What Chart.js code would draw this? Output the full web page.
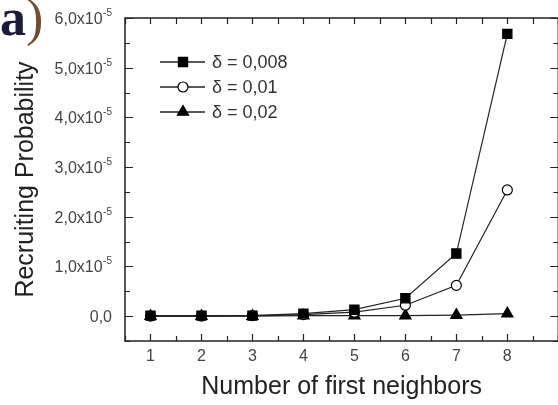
<!DOCTYPE html>
<html>
<head>
<meta charset="utf-8">
<script src="https://cdn.jsdelivr.net/npm/chart.js@4.4.0/dist/chart.umd.min.js"></script>
<style>
  html, body { margin: 0; padding: 0; background: #fff; overflow: hidden; width: 558px; height: 405px; }
  #wrap { position: relative; width: 558px; height: 405px; overflow: hidden; }
  #myChart { position: absolute; left: 0; top: 0; }
  #panel { position: absolute; left: 0px; top: -8px; line-height: 1; font-family: "Liberation Serif", serif; font-weight: bold; font-size: 52px; color: #1c1c38; }
  #panel span { color: #6e4f33; font-weight: normal; }
</style>
</head>
<body>
<div id="wrap">
  <canvas id="myChart" width="566" height="405"></canvas>
  <div id="panel">a<span>)</span></div>
</div>
<script>
// values in units of 1e-5
const neighbors = [1, 2, 3, 4, 5, 6, 7, 8];
const delta008 = [0.01, 0.01, 0.01, 0.05, 0.13, 0.36, 1.26, 5.68];
const delta001 = [0.0, 0.0, 0.01, 0.03, 0.08, 0.22, 0.62, 2.54];
const delta002 = [0.0, 0.0, 0.0, 0.01, 0.01, 0.01, 0.02, 0.05];
const seriesLabels = ['δ = 0,008', 'δ = 0,01', 'δ = 0,02'];
const xTickLabels = ['1', '2', '3', '4', '5', '6', '7', '8'];
const yTickLabels = ['0,0', '1,0x10', '2,0x10', '3,0x10', '4,0x10', '5,0x10', '6,0x10'];
const yTickExp = ['', '-5', '-5', '-5', '-5', '-5', '-5'];

const INK = '#222';
const FONT = '"Liberation Sans", Arial, sans-serif';

function pts(vals) {
  return neighbors.map((n, i) => ({ x: n, y: vals[i] }));
}

// frame with inward ticks, like the original plot
const framePlugin = {
  id: 'frame',
  beforeDatasetsDraw(chart) {
    const ctx = chart.ctx;
    const a = chart.chartArea;
    const xs = chart.scales.x;
    const ys = chart.scales.y;
    ctx.save();
    ctx.strokeStyle = INK;
    ctx.lineWidth = 1.5;
    ctx.strokeRect(a.left, a.top, a.right - a.left, a.bottom - a.top);
    ctx.lineWidth = 1.2;
    ctx.beginPath();
    xs.ticks.forEach(t => {
      const px = Math.round(xs.getPixelForValue(t.value)) + 0.5;
      const major = Number.isInteger(t.value);
      const len = major ? 7 : 5;
      ctx.moveTo(px, a.bottom); ctx.lineTo(px, a.bottom - len);
      ctx.moveTo(px, a.top); ctx.lineTo(px, a.top + 6);
    });
    ys.ticks.forEach(t => {
      const py = Math.round(ys.getPixelForValue(t.value)) + 0.5;
      const major = Number.isInteger(t.value);
      const len = major ? 8 : 5;
      ctx.moveTo(a.left, py); ctx.lineTo(a.left + len, py);
      ctx.moveTo(a.right, py); ctx.lineTo(a.right - len, py);
    });
    ctx.stroke();

    // y tick labels with a raised exponent
    ctx.fillStyle = '#444';
    ctx.textBaseline = 'alphabetic';
    ys.ticks.forEach(t => {
      if (!Number.isInteger(t.value) || t.value < 0) return;
      const py = ys.getPixelForValue(t.value);
      const base = yTickLabels[t.value];
      const exp = yTickExp[t.value];
      let right = a.left - 13;
      if (exp) {
        ctx.font = '10px ' + FONT;
        ctx.textAlign = 'right';
        ctx.fillText(exp, right, py - 2);
        right -= ctx.measureText(exp).width + 0.5;
      }
      ctx.font = '16px ' + FONT;
      ctx.textAlign = 'right';
      ctx.fillText(base, right, py + 6);
    });
    ctx.restore();
  },
  afterDatasetsDraw(chart) {
    // legend inside the plot, line through marker
    const ctx = chart.ctx;
    const a = chart.chartArea;
    ctx.save();
    chart.data.datasets.forEach((ds, i) => {
      const y = a.top + 44 + i * 25;
      const x0 = a.left + 35;
      ctx.strokeStyle = INK;
      ctx.lineWidth = 1.5;
      ctx.beginPath();
      ctx.moveTo(x0, y); ctx.lineTo(x0 + 45, y);
      ctx.stroke();
      ctx.fillStyle = ds.pointBackgroundColor;
      ctx.strokeStyle = ds.pointBorderColor;
      ctx.lineWidth = 1.2;
      Chart.helpers.drawPoint(ctx, { pointStyle: ds.pointStyle, radius: ds.pointRadius, borderWidth: 1.2 }, x0 + 23, y);
      ctx.fillStyle = '#333';
      ctx.font = '18px ' + FONT;
      ctx.textBaseline = 'middle';
      ctx.fillText(ds.label, x0 + 52, y + 1);
    });
    ctx.restore();
  }
};

const data = {
  datasets: [
    {
      label: seriesLabels[0], data: pts(delta008),
      borderColor: INK, borderWidth: 1.2,
      pointStyle: 'rect', pointRadius: 6.5,
      pointBackgroundColor: '#000', pointBorderColor: '#000'
    },
    {
      label: seriesLabels[1], data: pts(delta001),
      borderColor: INK, borderWidth: 1.2,
      pointStyle: 'circle', pointRadius: 5,
      pointBackgroundColor: '#fff', pointBorderColor: '#000'
    },
    {
      label: seriesLabels[2], data: pts(delta002),
      borderColor: INK, borderWidth: 1.2,
      pointStyle: 'triangle', pointRadius: 6.5,
      pointBackgroundColor: '#000', pointBorderColor: '#000'
    }
  ]
};

const config = {
  type: 'line',
  data: data,
  options: {
    responsive: false,
    devicePixelRatio: 1,
    animation: false,
    layout: { padding: { top: 18, right: 1, left: 0, bottom: 0 } },
    plugins: {
      legend: { display: false },
      tooltip: { enabled: false }
    },
    scales: {
      x: {
        type: 'linear', min: 0.5, max: 9,
        grid: { display: false, drawTicks: false },
        border: { display: false },
        ticks: {
          stepSize: 0.5, padding: 6, color: '#444',
          font: { size: 16, family: FONT },
          autoSkip: false, maxRotation: 0,
          callback: v => (Number.isInteger(v) && v >= 1 && v <= 8) ? xTickLabels[v - 1] : ''
        },
        title: {
          display: true, text: 'Number of first neighbors', color: '#222',
          font: { size: 25, family: FONT },
          padding: { top: 0, bottom: 3 }
        },
        afterFit: s => { s.height = 64; }
      },
      y: {
        min: -0.5, max: 6,
        grid: { display: false, drawTicks: false },
        border: { display: false },
        ticks: {
          stepSize: 0.5, display: false, autoSkip: false
        },
        title: {
          display: true, text: 'Recruiting Probability', color: '#222',
          font: { size: 25, family: FONT },
          padding: { top: 11, bottom: 0 }
        },
        afterFit: s => { s.width = 125; }
      }
    }
  },
  plugins: [framePlugin]
};

const myChart = new Chart(document.getElementById('myChart'), config);
</script>
</body>
</html>
